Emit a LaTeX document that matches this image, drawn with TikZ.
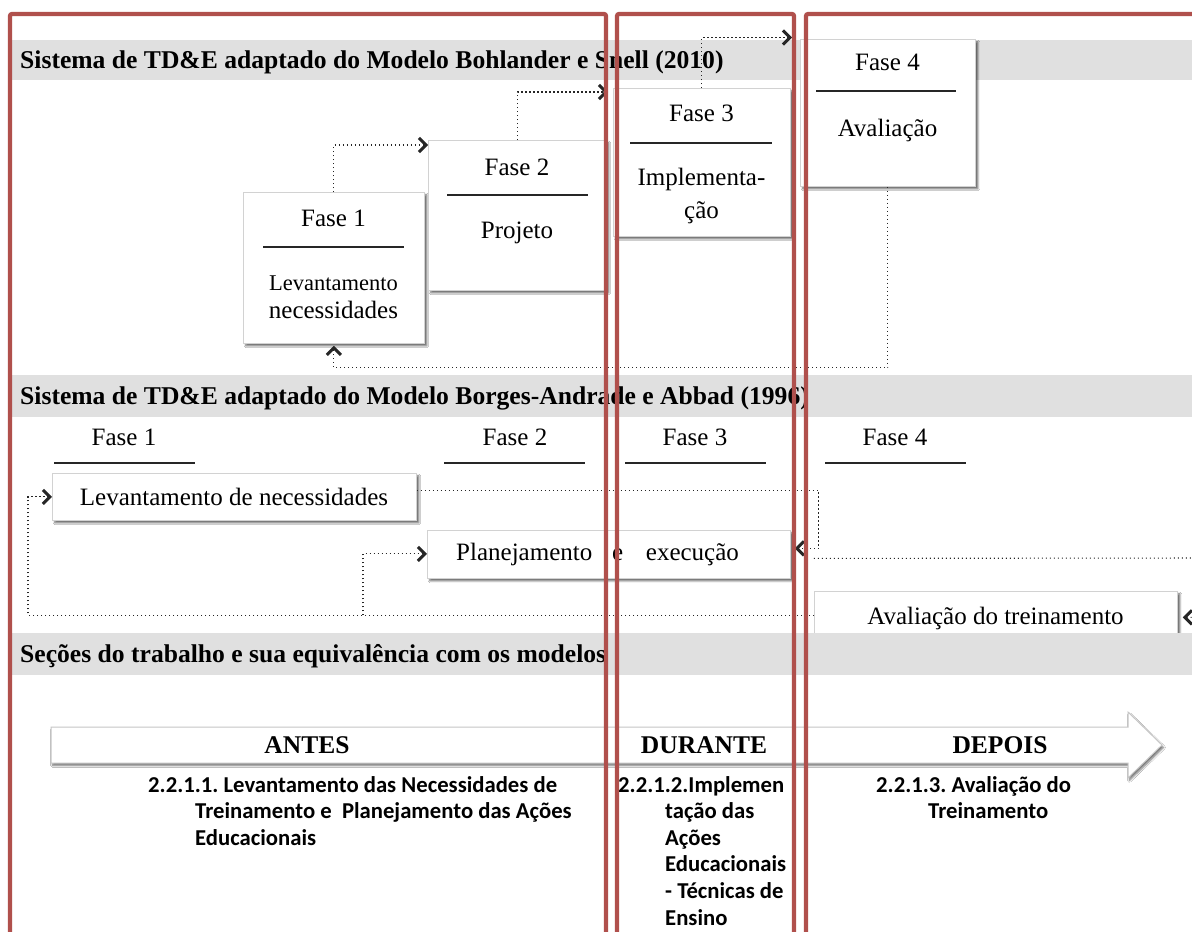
\documentclass[tikz,border=0pt]{standalone}
\usepackage{fontspec}
\setmainfont{Liberation Serif}
\newfontfamily\secfont{Carlito}
\usetikzlibrary{arrows.meta,shadows.blur}
\definecolor{framered}{RGB}{176,80,76}
\definecolor{bargray}{RGB}{224,224,224}
\frenchspacing
\tikzset{
  x=1pt, y=-1pt,
  headbar/.style={fill=bargray, draw=none},
  headtext/.style={anchor=base west, inner sep=0, font=\fontsize{25.6}{30}\selectfont\bfseries},
  phasebox/.style={anchor=north west, inner sep=0, fill=white, draw=gray!35, line width=0.8pt,
    blur shadow={shadow xshift=2.5pt, shadow yshift=-2.5pt, shadow blur steps=6, shadow opacity=60}},
  phaselabel/.style={anchor=base, inner sep=0, font=\fontsize{25}{30}\selectfont},
  smalllabel/.style={anchor=base, inner sep=0, font=\fontsize{22.5}{27}\selectfont},
  phaserule/.style={line width=1.3pt, black!85},
  flowplain/.style={black!85, line width=1.1pt, dash pattern=on 1.1pt off 2.9pt},
  flowline/.style={flowplain, -{Straight Barb[length=7pt,width=14pt,line width=3pt 0]}},
  redframe/.style={framered, line width=4.2pt, rounded corners=2pt},
  secttext/.style={anchor=base west, inner sep=0, font=\secfont\bfseries\fontsize{22.7}{26.6}\selectfont},
  bigword/.style={anchor=base, inner sep=0, font=\fontsize{25.5}{30}\selectfont\bfseries},
}
\begin{document}
\begin{tikzpicture}
\useasboundingbox (0,0) rectangle (1192,932);
\clip (0,0) rectangle (1192,932);
\fill[white] (0,0) rectangle (1192,932);

% ---------- Bohlander & Snell model ----------
\path[headbar] (10,40) rectangle (1192,80);
\node[headtext] (h1) at (20,68) {Sistema de TD\&E adaptado do Modelo Bohlander e Snell (2010)};

\node[phasebox, minimum width=181pt, minimum height=151pt] (f1) at (243,192) {};
\node[phasebox, minimum width=178pt, minimum height=150pt] (f2) at (428,140) {};
\node[phasebox, minimum width=177pt, minimum height=148pt] (f3) at (613,88) {};
\node[phasebox, minimum width=175pt, minimum height=147pt] (f4) at (800,39) {};

\node[phaselabel] (f1a) at (333.5,226) {Fase 1};
\draw[phaserule] (263,247) -- (404,247);
\node[smalllabel] (f1b) at (333.5,290.5) {Levantamento};
\node[phaselabel] (f1c) at (333.5,318.5) {necessidades};

\node[phaselabel] (f2a) at (517,175) {Fase 2};
\draw[phaserule] (447,195) -- (588,195);
\node[phaselabel] (f2b) at (517,238) {Projeto};

\node[phaselabel] (f3a) at (701.5,121) {Fase 3};
\draw[phaserule] (630,143) -- (772,143);
\node[phaselabel] (f3b) at (701.5,185.5) {Implementa-};
\node[phaselabel] (f3c) at (701.5,218) {ção};

\node[phaselabel] (f4a) at (887.5,70) {Fase 4};
\draw[phaserule] (816,91) -- (956,91);
\node[phaselabel] (f4b) at (887.5,136) {Avaliação};

\draw[flowline] (f1.north) |- ([yshift=-5pt]f2.north west);
\draw[flowline] (f2.north) |- ([xshift=-5pt,yshift=-4pt]f3.north west);
\draw[flowline] (f3.north) |- ([xshift=-8pt,yshift=1.5pt]f4.north west);
\draw[flowline] (f4.south) -- ++(0,181) -| ([yshift=-2pt]f1.south);

% ---------- Borges-Andrade & Abbad model ----------
\path[headbar] (10,375) rectangle (1192,417);
\node[headtext] (h2) at (20,404) {Sistema de TD\&E adaptado do Modelo Borges-Andrade e Abbad (1996)};

\node[phaselabel] (m1) at (124,445) {Fase 1};
\draw[phaserule] (54,463) -- (195,463);
\node[phaselabel] (m2) at (515,445) {Fase 2};
\draw[phaserule] (444,463) -- (585,463);
\node[phaselabel] (m3) at (695,445) {Fase 3};
\draw[phaserule] (625,463) -- (766,463);
\node[phaselabel] (m4) at (895,445) {Fase 4};
\draw[phaserule] (825,463) -- (966,463);

\node[phasebox, minimum width=364pt, minimum height=47pt] (lev) at (52,473) {};
\node[phasebox, minimum width=363pt, minimum height=48pt] (plan) at (427,530) {};
\node[phasebox, minimum width=363pt, minimum height=55pt] (aval) at (814,591) {};

\node[phaselabel] (levt) at (234,505) {Levantamento de necessidades};
\node[phaselabel, anchor=base west] (plant) at (456,560) {Planejamento\hspace{13.5pt} e\hspace{16.5pt} execução};
\node[phaselabel] (avalt) at (995.5,624) {Avaliação do treinamento};

\draw[flowline] ([yshift=6.5pt]lev.east) -- ++(402,0) |- ([xshift=4pt,yshift=6pt]plan.east);
\draw[flowline] ([xshift=23pt,yshift=-4pt]plan.east) -- (1215,558) |- ([xshift=5pt,yshift=1.5pt]aval.east);
\draw[flowline] ([yshift=3.5pt]aval.west) -- ++(-451,0) coordinate (split) -- ++(-335,0) |- (lev.west);
\draw[flowline] (split) |- ([yshift=0.5pt]plan.west);

% ---------- Sections of the work ----------
\path[headbar] (10,633) rectangle (1192,675);
\node[headtext] (h3) at (20,662) {Seções do trabalho e sua equivalência com os modelos};

\path[fill=white, draw=gray!45, line width=1pt,
  blur shadow={shadow xshift=1.5pt, shadow yshift=-2.5pt, shadow blur steps=6, shadow opacity=55}]
  (51,727) -- (1128,727) -- (1128,712) -- (1162,745) -- (1128,778) -- (1128,763) -- (51,763) -- cycle;

\node[bigword] (antes) at (307,753.5) {ANTES};
\node[bigword] (durante) at (704,753.5) {DURANTE};
\node[bigword] (depois) at (1000,753.5) {DEPOIS};

\node[secttext] (s1a) at (148,792) {2.2.1.1. Levantamento das Necessidades de};
\node[secttext] (s1b) at (195,818.6) {Treinamento e\ \ Planejamento das Ações};
\node[secttext] (s1c) at (195,845.2) {Educacionais};

\node[secttext] (s2a) at (618,792) {2.2.1.2.Implemen};
\node[secttext] (s2b) at (665,818.6) {tação das};
\node[secttext] (s2c) at (665,845.2) {Ações};
\node[secttext] (s2d) at (665,871.8) {Educacionais};
\node[secttext] (s2e) at (665,898.4) {- Técnicas de};
\node[secttext] (s2f) at (665,925) {Ensino};

\node[secttext] (s3a) at (876,792) {2.2.1.3. Avaliação do};
\node[secttext] (s3b) at (928,818.6) {Treinamento};

% ---------- Phase frames ----------
\draw[redframe] (10,950) -- (10,14) -- (606,14) -- (606,950);
\draw[redframe] (617,950) -- (617,14) -- (794,14) -- (794,950);
\draw[redframe] (806,950) -- (806,14) -- (1210,14);
\end{tikzpicture}
\end{document}
